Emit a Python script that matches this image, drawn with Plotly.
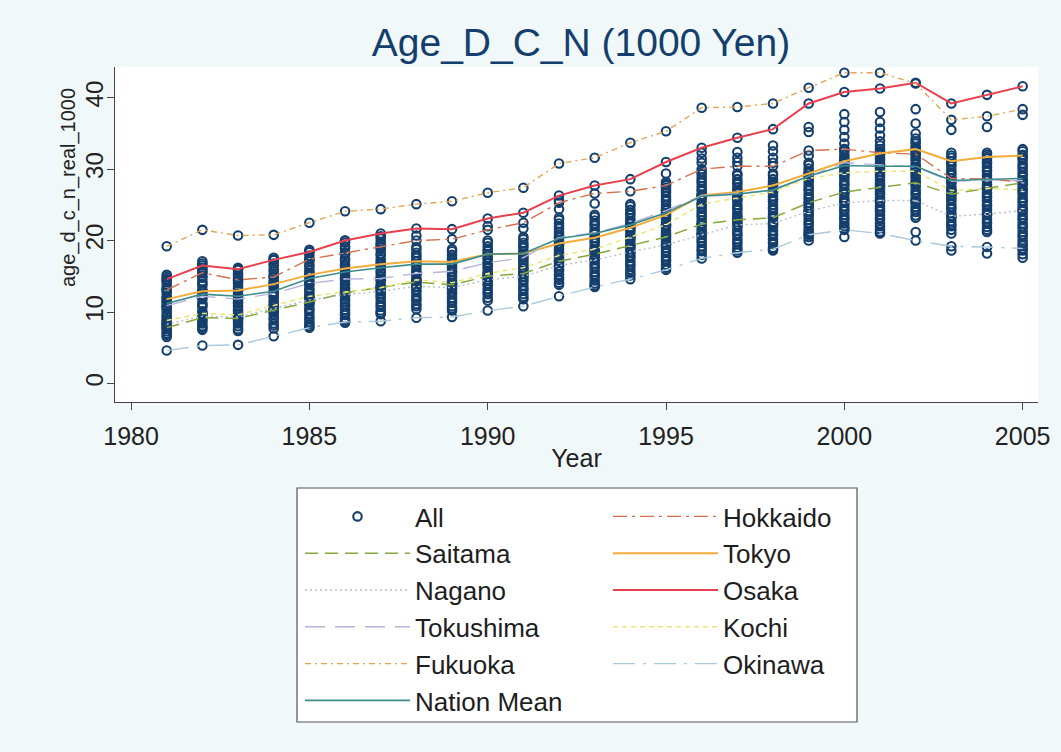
import plotly.graph_objects as go

# ---------------------------------------------------------------- data
years = list(range(1981, 2006))

hokkaido = [13.1, 15.5, 14.5, 14.9, 17.4, 18.3, 19.2, 20.0, 20.2, 21.5, 22.5, 25.3, 26.6,
            26.9, 27.7, 30.0, 30.4, 30.4, 32.6, 32.8, 32.3, 32.1, 28.7, 28.6, 28.2]
saitama = [7.8, 9.2, 9.1, 10.2, 11.4, 12.7, 13.5, 14.2, 13.8, 15.0, 15.4, 17.1, 18.1,
           19.3, 20.5, 22.3, 22.9, 23.2, 25.3, 26.8, 27.5, 28.1, 26.5, 27.3, 28.1]
tokyo = [11.8, 12.9, 13.0, 13.9, 15.2, 16.1, 16.7, 17.1, 17.0, 18.1, 18.2, 19.6, 20.4,
         21.8, 23.6, 26.3, 26.8, 27.7, 29.4, 31.1, 32.2, 32.8, 31.1, 31.7, 31.9]
nagano = [8.3, 9.4, 9.3, 10.5, 11.7, 12.4, 12.9, 13.6, 13.4, 14.5, 15.0, 16.5, 17.3,
          18.4, 19.4, 20.8, 22.2, 22.4, 24.1, 25.3, 25.6, 25.6, 23.4, 23.7, 24.2]
osaka = [14.6, 16.5, 16.0, 17.3, 18.4, 20.0, 21.0, 21.7, 21.6, 23.1, 23.9, 26.3, 27.7,
         28.6, 31.0, 33.0, 34.4, 35.6, 39.2, 40.8, 41.3, 42.1, 39.2, 40.4, 41.6]
tokushima = [10.9, 12.2, 11.8, 12.6, 14.0, 14.6, 14.7, 15.4, 15.7, 16.9, 17.6, 20.4, 21.1,
             22.4, 24.2, 26.3, 26.6, 27.0, 29.0, 30.9, 30.6, 30.3, 28.3, 28.5, 28.4]
kochi = [8.8, 9.8, 9.6, 10.9, 12.2, 12.8, 13.4, 14.5, 14.1, 15.4, 16.2, 17.9, 18.8,
         20.5, 22.2, 25.1, 26.0, 26.8, 28.7, 29.5, 29.7, 29.7, 27.0, 27.3, 27.1]
fukuoka = [19.2, 21.5, 20.7, 20.8, 22.5, 24.1, 24.4, 25.1, 25.5, 26.7, 27.4, 30.8, 31.6,
           33.7, 35.3, 38.6, 38.7, 39.2, 41.4, 43.5, 43.5, 42.0, 36.9, 37.4, 38.4]
okinawa = [4.6, 5.3, 5.4, 6.6, 7.8, 8.6, 8.7, 9.2, 9.3, 10.2, 10.8, 12.2, 13.5,
           14.6, 15.9, 17.5, 18.3, 18.8, 20.8, 21.5, 21.0, 20.0, 19.2, 19.1, 18.9]
nation_mean = [11.2, 12.5, 12.2, 12.9, 14.7, 15.6, 16.2, 16.7, 16.7, 18.1, 18.2, 20.3, 21.0,
               22.2, 23.9, 26.2, 26.5, 27.1, 29.0, 30.5, 30.4, 30.4, 28.4, 28.6, 28.7]

# remaining prefectures, one list per year (1981 ... 2005)
other_prefectures = [
    [15.2, 14.9, 14.4, 14.2, 13.7, 13.3, 13.0, 12.7, 12.2, 12.0, 11.5, 11.3, 10.8, 10.6,
     10.3, 9.9, 9.5, 9.3, 8.9, 8.5, 8.2, 7.9, 7.7, 7.3, 7.0, 6.8, 6.5],
    [17.1, 16.8, 16.2, 15.9, 15.6, 15.0, 14.8, 14.3, 14.0, 13.7, 13.1, 12.9, 12.4, 12.1,
     11.8, 11.2, 11.0, 10.7, 10.1, 9.8, 9.6, 9.0, 8.7, 8.4, 8.0, 7.8, 7.5],
    [16.2, 15.9, 15.4, 15.1, 14.8, 14.3, 14.0, 13.6, 13.3, 13.0, 12.5, 12.2, 11.9, 11.4,
     11.2, 10.8, 10.4, 10.1, 9.8, 9.3, 9.0, 8.7, 8.4, 8.0, 7.6, 7.35],
    [17.6, 17.3, 16.8, 16.5, 16.0, 15.7, 15.2, 14.9, 14.4, 14.1, 13.6, 13.3, 12.8, 12.4,
     12.1, 11.6, 11.3, 10.8, 10.5, 10.0, 9.7, 9.2, 8.9, 8.4, 8.1, 7.7],
    [18.7, 18.4, 17.9, 17.4, 17.1, 16.6, 16.3, 15.8, 15.5, 15.0, 14.5, 14.2, 13.8, 13.3,
     13.0, 12.6, 12.1, 11.8, 11.3, 11.0, 10.5, 10.2, 9.8, 9.3, 9.0, 8.6, 8.3, 8.0],
    [20.0, 19.7, 19.2, 18.9, 18.3, 18.0, 17.5, 17.2, 16.7, 16.4, 15.8, 15.5, 15.1, 14.8,
     14.3, 13.9, 13.4, 13.1, 12.7, 12.3, 11.8, 11.5, 11.1, 10.8, 10.3, 9.9, 9.6, 9.1, 8.8, 8.5],
    [20.6, 20.3, 19.8, 19.5, 19.0, 18.7, 18.2, 17.9, 17.4, 17.0, 16.6, 16.3, 15.8, 15.5,
     15.0, 14.6, 14.3, 13.8, 13.4, 13.1, 12.6, 12.2, 11.9, 11.4, 11.0, 10.7, 10.2, 9.9, 9.7],
    [20.7, 19.1, 18.8, 18.3, 17.9, 17.6, 17.1, 16.7, 16.4, 15.9, 15.5, 15.2, 14.7, 14.3,
     14.0, 13.5, 13.1, 12.8, 12.3, 11.9, 11.6, 11.1, 10.8, 10.4],
    [18.8, 18.5, 18.0, 17.6, 17.3, 16.8, 16.4, 16.1, 15.6, 15.2, 14.9, 14.4, 14.0, 13.7,
     13.2, 12.8, 12.5, 12.0, 11.6, 11.3, 10.8, 10.5, 10.2],
    [22.0, 20.0, 19.7, 19.2, 18.8, 18.5, 18.0, 17.6, 17.3, 16.8, 16.4, 16.1, 15.6, 15.2,
     14.9, 14.4, 14.0, 13.7, 13.2, 12.8, 12.5, 12.0, 11.6],
    [21.7, 20.5, 20.2, 19.7, 19.3, 19.0, 18.5, 18.1, 17.8, 17.3, 16.9, 16.6, 16.1, 15.7,
     15.4, 14.9, 14.5, 14.2, 13.7, 13.3, 13.0, 12.5, 12.1, 11.8],
    [25.6, 24.4, 23.2, 22.9, 22.4, 22.0, 21.7, 21.2, 20.8, 20.5, 20.0, 19.6, 19.3, 18.8,
     18.4, 18.1, 17.6, 17.2, 16.9, 16.4, 16.0, 15.7, 15.2, 14.8, 14.5, 14.1, 13.8],
    [25.2, 23.6, 23.3, 22.8, 22.4, 22.1, 21.6, 21.2, 20.9, 20.4, 20.0, 19.7, 19.2, 18.8,
     18.5, 18.0, 17.6, 17.3, 16.8, 16.4, 16.1, 15.6, 15.2, 14.9, 14.4, 14.0, 13.7],
    [25.1, 24.8, 24.3, 23.9, 23.6, 23.1, 22.7, 22.4, 21.9, 21.5, 21.2, 20.7, 20.3, 20.0,
     19.5, 19.1, 18.8, 18.3, 17.9, 17.6, 17.1, 16.7, 16.4, 15.9, 15.5, 15.1],
    [29.4, 28.2, 27.9, 27.4, 27.0, 26.7, 26.2, 25.8, 25.5, 25.0, 24.6, 24.3, 23.8, 23.4,
     23.1, 22.6, 22.2, 21.9, 21.4, 21.0, 20.7, 20.2, 19.8, 19.5, 19.0, 18.6, 18.3, 17.8,
     17.4, 17.1, 16.6, 16.2],
    [32.3, 31.5, 30.9, 29.6, 29.3, 28.8, 28.4, 28.1, 27.6, 27.2, 26.9, 26.4, 26.0, 25.7,
     25.2, 24.8, 24.5, 24.0, 23.6, 23.3, 22.8, 22.4, 22.1, 21.6, 21.2, 20.9, 20.4, 20.0,
     19.7, 19.2, 18.8, 18.5, 18.0],
    [32.4, 31.6, 31.0, 29.4, 29.1, 28.6, 28.2, 27.9, 27.4, 27.0, 26.7, 26.2, 25.8, 25.5,
     25.0, 24.6, 24.3, 23.8, 23.4, 23.1, 22.6, 22.2, 21.9, 21.4, 21.0, 20.7, 20.2, 19.8,
     19.5, 19.0, 18.6],
    [33.3, 32.5, 31.6, 30.9, 29.4, 29.1, 28.6, 28.2, 27.9, 27.4, 27.0, 26.7, 26.2, 25.8,
     25.5, 25.0, 24.6, 24.3, 23.8, 23.4, 23.1, 22.6, 22.2, 21.9, 21.4, 21.0, 20.7, 20.2,
     19.8, 19.5, 19.0, 18.6],
    [35.9, 35.2, 31.9, 30.9, 30.6, 30.1, 29.7, 29.4, 28.9, 28.5, 28.2, 27.7, 27.3, 27.0,
     26.5, 26.1, 25.8, 25.3, 24.9, 24.6, 24.1, 23.7, 23.4, 22.9, 22.5, 22.2, 21.7, 21.3,
     21.0, 20.5, 20.0],
    [37.7, 36.6, 35.5, 34.5, 33.6, 32.8, 32.5, 32.0, 31.6, 31.3, 30.8, 30.4, 30.1, 29.6,
     29.2, 28.9, 28.4, 28.0, 27.7, 27.2, 26.8, 26.5, 26.0, 25.6, 25.3, 24.8, 24.4, 24.1,
     23.6, 23.2, 22.9, 22.4, 22.0, 21.7, 20.5],
    [38.0, 36.6, 35.7, 34.7, 33.9, 33.3, 32.8, 32.5, 32.0, 31.6, 31.3, 30.8, 30.4, 30.1,
     29.6, 29.2, 28.9, 28.4, 28.0, 27.7, 27.2, 26.8, 26.5, 26.0, 25.6, 25.3, 24.8, 24.4,
     24.1, 23.6, 23.2, 22.9, 22.4, 22.0, 21.6, 21.2],
    [38.4, 36.4, 35.0, 34.3, 33.9, 33.6, 33.1, 32.7, 32.4, 31.9, 31.5, 31.2, 30.7, 30.3,
     30.0, 29.5, 29.1, 28.8, 28.3, 27.9, 27.6, 27.1, 26.7, 26.4, 25.9, 25.5, 25.2, 24.7,
     24.3, 24.0, 23.5, 23.2, 21.2],
    [35.5, 32.3, 31.9, 31.6, 31.1, 30.7, 30.4, 29.9, 29.5, 29.2, 28.7, 28.3, 28.0, 27.5,
     27.1, 26.8, 26.3, 25.9, 25.6, 25.1, 24.7, 24.4, 23.9, 23.5, 23.2, 22.7, 22.3, 22.0,
     21.5, 21.0, 18.6],
    [35.9, 32.3, 32.0, 31.5, 31.1, 30.8, 30.3, 29.9, 29.6, 29.1, 28.7, 28.4, 27.9, 27.5,
     27.2, 26.7, 26.3, 26.0, 25.5, 25.1, 24.8, 24.3, 23.9, 23.6, 23.1, 22.7, 22.4, 21.9,
     21.5, 21.2, 18.2],
    [37.6, 32.8, 32.5, 32.0, 31.6, 31.3, 30.8, 30.4, 30.1, 29.6, 29.2, 28.9, 28.4, 28.0,
     27.7, 27.2, 26.8, 26.5, 26.0, 25.6, 25.3, 24.8, 24.4, 24.1, 23.6, 23.2, 22.9, 22.4,
     22.0, 21.7, 21.2, 20.8, 20.5, 20.0, 19.6, 19.3, 18.6, 18.1, 17.6],
]

# ---------------------------------------------------------------- styling
W, H = 1061, 752
M_L, M_R, M_T, M_B = 115, 23, 67, 350
FONT = "Liberation Sans, Arial, sans-serif"
NAVY = "#143f6d"
INK = "#222222"

named = [
    # name, values, colour, dash, width, legend
    ("Hokkaido", hokkaido, "#d4704c", "14px,5px,3px,5px", 1.4, "legend2"),
    ("Saitama", saitama, "#86a83c", "13px,7px", 1.5, "legend"),
    ("Tokyo", tokyo, "#f2ad3c", "solid", 2.0, "legend2"),
    ("Nagano", nagano, "#b8c0c8", "2px,3px", 1.4, "legend"),
    ("Osaka", osaka, "#e8404e", "solid", 2.0, "legend2"),
    ("Tokushima", tokushima, "#b6b4e0", "20px,10px", 1.4, "legend"),
    ("Kochi", kochi, "#ece67a", "5px,4px", 1.5, "legend2"),
    ("Fukuoka", fukuoka, "#e2a657", "6px,4px,2px,4px", 1.4, "legend"),
    ("Okinawa", okinawa, "#a9c9de", "22px,8px,3px,8px", 1.4, "legend2"),
    ("Nation Mean", nation_mean, "#3d8c8c", "solid", 1.6, "legend"),
]

fig = go.Figure()

# every prefecture, every year
all_x, all_y = [], []
for i, yr in enumerate(years):
    vals = other_prefectures[i] + [s[1][i] for s in named if s[0] != "Nation Mean"]
    all_x += [yr] * len(vals)
    all_y += vals

fig.add_trace(go.Scatter(
    x=all_x, y=all_y, mode="markers", name="All", legend="legend",
    legendgroup="All",
    marker=dict(symbol="circle-open", size=8.5, color=NAVY, line=dict(width=2.1, color=NAVY)),
))

for name, vals, color, dash, width, leg in named:
    fig.add_trace(go.Scatter(
        x=years, y=vals, mode="lines", name=name, legend=leg, legendgroup=name,
        line=dict(color=color, dash=dash, width=width),
    ))


def px_x(p):
    return (p - M_L) / (W - M_L - M_R)


def px_y(p):
    return (H - M_B - p) / (H - M_T - M_B)


leg_common = dict(
    xref="container", yref="container", xanchor="left", yanchor="top",
    orientation="v", bgcolor="rgba(0,0,0,0)", borderwidth=0,
    font=dict(family=FONT, size=26, color="#1e1e1e"),
    itemwidth=105, tracegroupgap=0, traceorder="normal",
)

fig.update_layout(
    width=W, height=H,
    margin=dict(l=M_L, r=M_R, t=M_T, b=M_B, autoexpand=False),
    paper_bgcolor="#f0f8f9",
    plot_bgcolor="#ffffff",
    font=dict(family=FONT, size=24, color=INK),
    title=dict(text="Age_D_C_N (1000 Yen)", x=px_x(581), xref="paper", xanchor="center",
               y=1 - 42 / H, yanchor="middle",
               font=dict(family=FONT, size=39, color=NAVY)),
    xaxis=dict(
        range=[1979.55, 2005.43], tickmode="array", tickvals=[1980, 1985, 1990, 1995, 2000, 2005],
        ticks="outside", ticklen=7, tickwidth=1.2, tickcolor="#444444",
        showline=True, linecolor="#444444", linewidth=1.2, showgrid=False, zeroline=False,
        tickfont=dict(family=FONT, size=25, color=INK), ticklabelstandoff=5,
        title=dict(text="Year", font=dict(family=FONT, size=25, color=INK), standoff=0),
    ),
    yaxis=dict(
        range=[-2.6, 44.3], tickmode="array", tickvals=[0, 10, 20, 30, 40],
        ticks="outside", ticklen=7, tickwidth=1.2, tickcolor="#444444", tickangle=-90,
        showline=True, linecolor="#444444", linewidth=1.2, showgrid=False, zeroline=False,
        tickfont=dict(family=FONT, size=24, color=INK), ticklabelstandoff=-6,
    ),
    legend=dict(x=300 / W, y=1 - 493 / H, **leg_common),
    legend2=dict(x=608 / W, y=1 - 493 / H, **leg_common),
    annotations=[dict(text="age_d_c_n_real_1000", textangle=-90, showarrow=False,
                      xref="paper", yref="paper", x=px_x(68), y=px_y(188),
                      xanchor="center", yanchor="middle",
                      font=dict(family=FONT, size=20, color=INK))],
    shapes=[dict(type="rect", xref="paper", yref="paper",
                 x0=px_x(297), x1=px_x(857), y0=px_y(488), y1=px_y(722),
                 line=dict(color="#555555", width=1.2), fillcolor="#ffffff", layer="below")],
)

fig.write_html("out.html")
